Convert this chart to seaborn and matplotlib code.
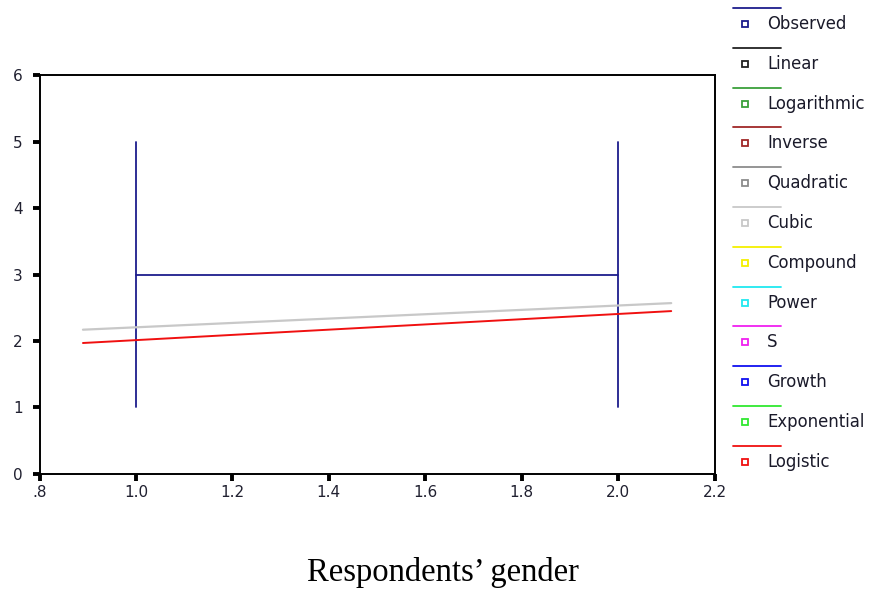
import matplotlib
matplotlib.use("Agg")
import matplotlib.pyplot as plt
from matplotlib.lines import Line2D
import seaborn as sns
import pandas as pd

# Observed data: ranges at each gender code plus the connecting mean line
obs_x_male = [1.0, 1.0]
obs_y_male = [1.0, 5.0]
obs_x_female = [2.0, 2.0]
obs_y_female = [1.0, 5.0]
obs_mean_x = [1.0, 2.0]
obs_mean_y = [3.0, 3.0]

# Fitted curves over the plotted range
fit_x = [0.89, 2.11]
cubic_y = [2.17, 2.57]
logistic_y = [1.97, 2.45]

# Curve-fit model names and their colours
models = ["Observed", "Linear", "Logarithmic", "Inverse", "Quadratic", "Cubic",
          "Compound", "Power", "S", "Growth", "Exponential", "Logistic"]
model_colors = ["#1c1c8c", "#222222", "#3aa03a", "#a02828", "#8c8c8c", "#c8c8c8",
                "#f4f000", "#20e8f0", "#f020f0", "#1010f0", "#30e830", "#f01010"]

x_ticks = [0.8, 1.0, 1.2, 1.4, 1.6, 1.8, 2.0, 2.2]
x_tick_labels = [".8", "1.0", "1.2", "1.4", "1.6", "1.8", "2.0", "2.2"]
y_ticks = [0, 1, 2, 3, 4, 5, 6]

sns.set_theme(style="white")
plt.rcParams["font.family"] = ["DejaVu Sans"]

fig = plt.figure(figsize=(8.79, 5.91), dpi=100)
ax = fig.add_axes([0.045, 0.198, 0.768, 0.675])

obs_color = model_colors[models.index("Observed")]
for xs, ys in [(obs_x_male, obs_y_male), (obs_x_female, obs_y_female), (obs_mean_x, obs_mean_y)]:
    sns.lineplot(data=pd.DataFrame({"x": xs, "y": ys}), x="x", y="y", ax=ax,
                 color=obs_color, linewidth=1.3, sort=False, estimator=None)

sns.lineplot(x=fit_x, y=cubic_y, ax=ax, color=model_colors[models.index("Cubic")],
             linewidth=1.6, estimator=None)
sns.lineplot(x=fit_x, y=logistic_y, ax=ax, color=model_colors[models.index("Logistic")],
             linewidth=1.4, estimator=None)

ax.set_xlim(0.8, 2.2)
ax.set_ylim(0, 6)
ax.set_xticks(x_ticks)
ax.set_xticklabels(x_tick_labels)
ax.set_yticks(y_ticks)
ax.tick_params(axis="both", direction="out", length=5, width=2.8, color="black",
               labelsize=11, labelcolor="#202030", bottom=True, left=True)
ax.tick_params(axis="x", pad=3)
ax.tick_params(axis="y", pad=7)
for side in ["left", "bottom", "top", "right"]:
    ax.spines[side].set_color("black")
    ax.spines[side].set_linewidth(1.4)
ax.set_xlabel("")
ax.set_ylabel("")

fig.text(0.504, 1 - 573 / 591, "Respondents\u2019 gender", ha="center", va="center",
         fontsize=23.5, family=["Liberation Serif", "DejaVu Serif"], color="black")

# Legend column on the right: a line swatch above each marker and label
line_y0 = 1 - 8 / 591
label_y0 = 1 - 24 / 591
step = 39.8 / 591
for i, (name, col) in enumerate(zip(models, model_colors)):
    ly = line_y0 - i * step
    ty = label_y0 - i * step
    fig.add_artist(Line2D([733 / 879, 781 / 879], [ly, ly], color=col, linewidth=1.3,
                          transform=fig.transFigure))
    fig.add_artist(Line2D([745 / 879], [ty], marker="s", markersize=5,
                          markerfacecolor="white", markeredgecolor=col,
                          markeredgewidth=1.3, linestyle="none",
                          transform=fig.transFigure))
    fig.text(767 / 879, ty, name, ha="left", va="center", fontsize=11.9, color="#1a1a2a")

fig.savefig("out.png", dpi=100, facecolor="white")
